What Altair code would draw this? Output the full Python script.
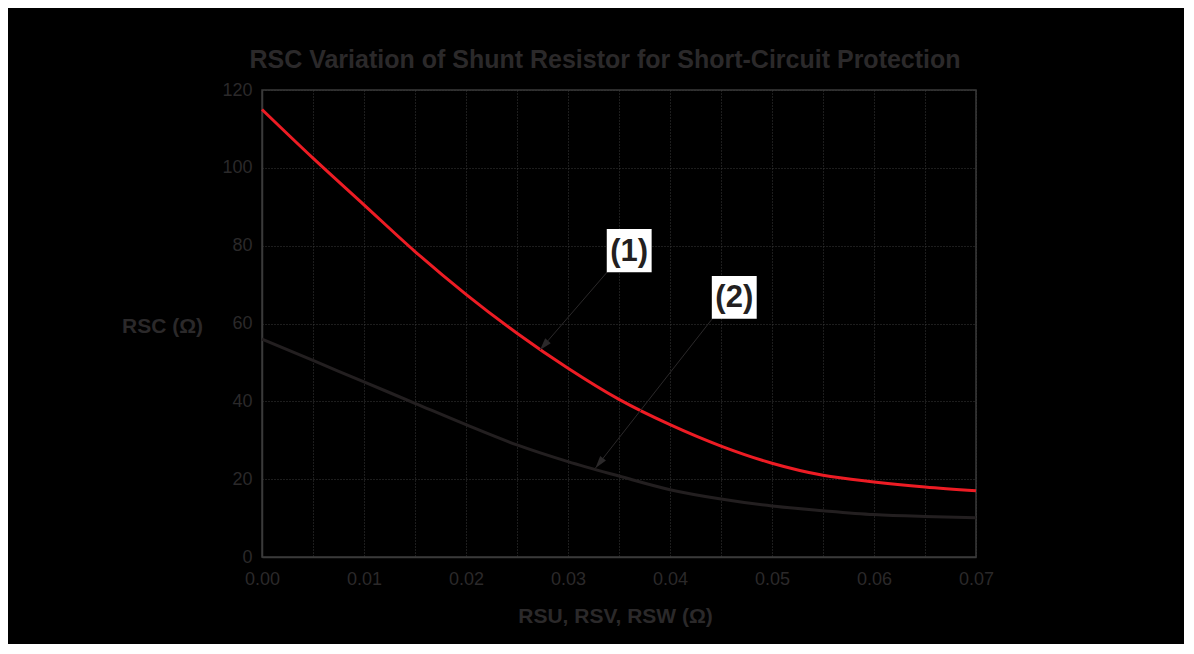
import altair as alt
import pandas as pd

# --- data ---
x_vals = [0.0, 0.005, 0.01, 0.015, 0.02, 0.025, 0.03, 0.035, 0.04, 0.045, 0.05, 0.055, 0.06, 0.065, 0.07]
curve1 = [115.0, 102.5, 90.5, 78.5, 67.5, 57.5, 48.5, 40.5, 34.0, 28.5, 24.1, 21.0, 19.3, 18.0, 17.0]
curve2 = [56.0, 50.5, 45.0, 39.5, 34.0, 28.8, 24.5, 20.8, 17.3, 14.9, 13.1, 11.9, 10.9, 10.4, 10.1]
series_names = ["(1)", "(2)"]

# annotation labels (box corners and text centres in data units) and arrows (start -> tip)
label_text = ["(1)", "(2)"]
label_x = [0.0360, 0.0463]
label_y = [78.7, 66.7]
box_x1 = [0.0338, 0.0441]
box_x2 = [0.0382, 0.0485]
box_y1 = [73.2, 61.2]
box_y2 = [84.3, 72.2]
arrow_x_start = [0.0340, 0.0442]
arrow_y_start = [73.7, 61.4]
arrow_x_tip = [0.02725, 0.0327]
arrow_y_tip = [53.2, 22.9]

x_ticks = [round(i * 0.005, 3) for i in range(15)]
y_ticks = list(range(0, 121, 10))

TXT = "#2b292a"
GRID = "#3a3a3a"

rows = []
for name, ys in zip(series_names, [curve1, curve2]):
    for x, y in zip(x_vals, ys):
        rows.append({"x": x, "y": y, "s": name})
df = pd.DataFrame(rows)

labels = pd.DataFrame({"t": label_text, "x": label_x, "y": label_y,
                       "bx1": box_x1, "bx2": box_x2, "by1": box_y1, "by2": box_y2})
arrows = pd.DataFrame({"x": arrow_x_start, "y": arrow_y_start,
                       "x2": arrow_x_tip, "y2": arrow_y_tip})

xscale = alt.Scale(domain=[0, 0.07], nice=False, zero=False)
yscale = alt.Scale(domain=[0, 120], nice=False)

xaxis = alt.Axis(values=x_ticks,
                 labelExpr="round(datum.value*1000) % 10 == 0 ? format(datum.value, '.2f') : ''",
                 title="RSU, RSV, RSW (Ω)", titleFontSize=21, titleFontWeight="bold",
                 titleColor=TXT, titlePadding=17, labelFontSize=18, labelColor=TXT,
                 labelPadding=13, ticks=False, domainColor=GRID, domainWidth=1.5,
                 gridColor=GRID, gridDash=[1, 2], gridWidth=1, labelFont="Liberation Sans",
                 titleFont="Liberation Sans", titleX=353, labelFlush=False)
yaxis = alt.Axis(values=y_ticks,
                 labelExpr="datum.value % 20 == 0 ? datum.value : ''",
                 title="RSC (Ω)", titleAngle=0, titleX=-100, titleY=236,
                 titleAlign="center", titleBaseline="middle",
                 titleFontSize=21, titleFontWeight="bold", titleColor=TXT,
                 labelFontSize=18, labelColor=TXT, labelPadding=10, ticks=False,
                 domainColor=GRID, domainWidth=1.5, gridColor=GRID, gridDash=[1, 2],
                 gridWidth=1, labelFont="Liberation Sans", titleFont="Liberation Sans",
                 labelFlush=False)

lines = alt.Chart(df).mark_line(strokeWidth=3, interpolate="monotone").encode(
    x=alt.X("x:Q", scale=xscale, axis=xaxis),
    y=alt.Y("y:Q", scale=yscale, axis=yaxis),
    color=alt.Color("s:N", scale=alt.Scale(domain=series_names, range=["#ed1c24", "#231f20"]),
                    legend=None),
)

arrow_lines = alt.Chart(arrows).mark_rule(color="#2b292a", strokeWidth=1).encode(
    x="x:Q", y="y:Q", x2="x2:Q", y2="y2:Q")

head_shape = "M0,0L-0.3,1L0.3,1Z"
head1 = alt.Chart(arrows.iloc[[0]]).mark_point(shape=head_shape, filled=True, color="#2b292a",
                                               size=600, angle=221, opacity=1).encode(
    x="x2:Q", y="y2:Q")
head2 = alt.Chart(arrows.iloc[[1]]).mark_point(shape=head_shape, filled=True, color="#2b292a",
                                               size=600, angle=218, opacity=1).encode(
    x="x2:Q", y="y2:Q")

boxes = alt.Chart(labels).mark_rect(color="white").encode(
    x="bx1:Q", x2="bx2:Q", y="by1:Q", y2="by2:Q")
texts = alt.Chart(labels).mark_text(font="Liberation Sans", fontWeight="bold", fontSize=31,
                                    color="#231f20", baseline="middle", align="center", dy=1).encode(
    x="x:Q", y="y:Q", text="t:N")

chart = alt.layer(lines, arrow_lines, head1, head2, boxes, texts).properties(
    width=714, height=467,
    title=alt.Title("RSC Variation of Shunt Resistor for Short-Circuit Protection",
                    fontSize=25, fontWeight="bold", color=TXT, font="Liberation Sans",
                    anchor="middle", offset=8, dx=-14),
    autosize=alt.AutoSizeParams(type="none"),
    padding={"left": 254, "top": 82, "right": 208, "bottom": 87},
    background="black",
).configure_view(stroke=GRID, strokeWidth=1.5)

chart.save("out.html", embed_options={"renderer": "svg", "actions": False})
